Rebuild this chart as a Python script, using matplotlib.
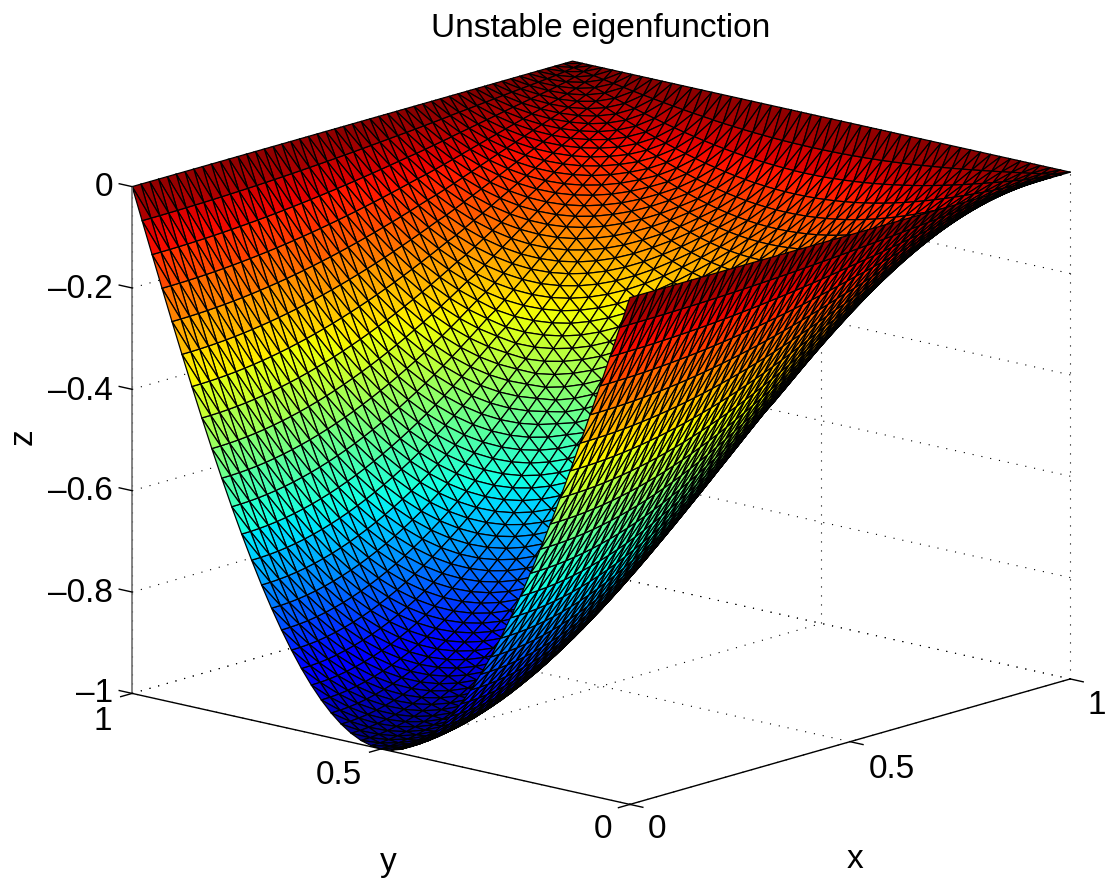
# plot.py - unstable eigenfunction surface
import numpy as np
import matplotlib
matplotlib.use("Agg")
import matplotlib.pyplot as plt

plt.rcParams['font.family'] = ['Liberation Sans', 'DejaVu Sans']

# ---------- Data ----------
# depth of the surface along x (y held at the middle), 50 mesh cells
x_profile = [1.0, .9995, .998, .9956, .9921, .9877, .9823, .9759, .9686, .9603,
             .9511, .9409, .9298, .9178, .9048, .891, .8763, .8607, .8443, .8271,
             .809, .7902, .7705, .7501, .729, .7071, .6845, .6613, .6374, .6129,
             .592, .567, .541, .515, .489, .462, .435, .408, .381, .354,
             .327, .30, .274, .248, .222, .197, .169, .138, .101, .056, 0.0]
# depth along the edge x = 0
y_profile = [0.0, .0628, .1253, .1874, .2487, .309, .3681, .4258, .4818, .5358,
             .5878, .6374, .6845, .729, .7705, .809, .8443, .8763, .9048, .9298,
             .9511, .9686, .9823, .9921, .998, 1.0, .998, .9921, .9823, .9686,
             .9511, .9298, .9048, .8763, .8443, .809, .7705, .729, .6845, .6374,
             .5878, .5358, .4818, .4258, .3681, .3090, .2487, .1874, .1253, .0628, 0.0]

x_ticks = [0, 0.5, 1]
y_ticks = [0, 0.5, 1]
z_ticks = [-1, -0.8, -0.6, -0.4, -0.2, 0]

z_labels = ['–1', '–0.8', '–0.6', '–0.4', '–0.2', '0']
z_label_py = [694, 593, 492, 391, 290, 188]
FS = 24

W, H = 1110, 884
SIDE = 1200
fig = plt.figure(figsize=(W / 100, H / 100), dpi=100)
ax = fig.add_axes([-15 / W, -165 / H, SIDE / W, SIDE / H], projection='3d', proj_type='ortho')
ax.set_box_aspect((1, 1, 0.788), zoom=0.8704)
ax.view_init(elev=14.6, azim=-138.5)
ax.set_xlim(0, 1)
ax.set_ylim(0, 1)
ax.set_zlim(-1, 0)
ax.set_axis_off()
ax.computed_zorder = False

# ---------- Mesh ----------
nx = len(x_profile)
ny = len(y_profile)
xs = np.arange(nx) / (nx - 1)
ys = np.arange(ny) / (ny - 1)
X, Y = np.meshgrid(xs, ys, indexing='ij')
Z = -np.outer(x_profile, y_profile)

tris = []
for i in range(nx - 1):
    for j in range(ny - 1):
        a = i * ny + j
        b = (i + 1) * ny + j
        c = (i + 1) * ny + j + 1
        d = i * ny + j + 1
        tris.append([d, b, a])
        tris.append([d, c, b])

# ---------- Grid on the back walls and floor ----------
dots = dict(color='k', lw=0.8, linestyle=(0, (1, 7.1)), zorder=1)
for z in z_ticks:
    ax.plot([0, 1], [1, 1], [z, z], **dots)
    ax.plot([1, 1], [0, 1], [z, z], **dots)
for x in x_ticks:
    ax.plot([x, x], [1, 1], [-1, 0], **dots)
    ax.plot([x, x], [0, 1], [-1, -1], **dots)
for y in y_ticks:
    ax.plot([1, 1], [y, y], [-1, 0], **dots)
    ax.plot([0, 1], [y, y], [-1, -1], **dots)

# ---------- Axis lines and ticks ----------
solid = dict(color='k', lw=1.0, zorder=3)
TL = 0.026
ax.plot([0, 1], [0, 0], [-1, -1], **solid)
ax.plot([0, 0], [0, 1], [-1, -1], **solid)
ax.plot([0, 0], [1, 1], [-1, 0], color='#707070', lw=1.2, zorder=3)
for x in x_ticks:
    ax.plot([x, x], [0, -TL], [-1, -1], **solid)
for y in y_ticks:
    ax.plot([0, -TL], [y, y], [-1, -1], **solid)
for z in z_ticks:
    ax.plot([0, 0], [1, 1 + TL], [z, z], **solid)

# ---------- Surface ----------
ax.plot_trisurf(X.ravel(), Y.ravel(), Z.ravel(), triangles=tris, cmap='jet',
                vmin=-1, vmax=0, edgecolor='k', linewidth=0.9, shade=False, zorder=2)


def px_text(px, py, s, **kw):
    kw.setdefault('ha', 'center')
    kw.setdefault('va', 'center')
    fig.text(px / W, 1 - py / H, s, fontsize=FS, **kw)


for lab, py in zip(z_labels, z_label_py):
    px_text(113, py, lab, ha='right')
px_text(657, 830, '0')
px_text(892, 769, '0.5')
px_text(1097, 705, '1')
px_text(603, 830, '0')
px_text(339, 776, '0.5')
px_text(103, 722, '1')
px_text(855, 859, 'x')
px_text(388, 863, 'y')
px_text(23, 437, 'z', rotation=90)
px_text(601, 29, 'Unstable eigenfunction')

fig.savefig('out.png', dpi=100)
